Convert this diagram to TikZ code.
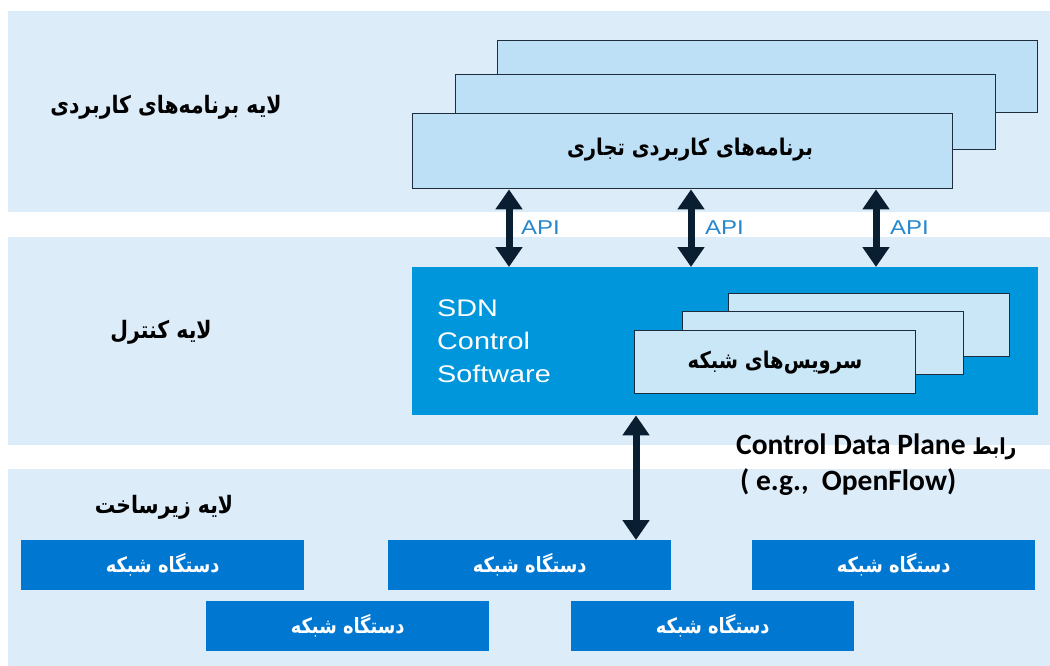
\documentclass[tikz,border=0pt]{standalone}
\usepackage{fontspec}
\setmainfont{Liberation Sans}[FakeStretch=1.2]
\newfontfamily\fa[Script=Arabic,FakeStretch=0.85]{DejaVu Sans}
\newfontfamily\planefont{Carlito}
\TeXXeTstate=1
\usetikzlibrary{arrows.meta}

\definecolor{bandblue}{RGB}{221,236,249}
\definecolor{appfill}{RGB}{190,224,246}
\definecolor{svcfill}{RGB}{202,231,248}
\definecolor{edgedark}{RGB}{30,45,62}
\definecolor{ctrlblue}{RGB}{0,150,220}
\definecolor{devblue}{RGB}{0,120,210}
\definecolor{arrowdark}{RGB}{10,30,50}
\definecolor{apiblue}{RGB}{40,135,205}

\begin{document}
\begin{tikzpicture}[x=1pt,y=-1pt,
  stackbox/.style={draw=edgedark,line width=1.4pt,anchor=north west,inner sep=0pt},
  appbox/.style={stackbox,fill=appfill,minimum width=540pt,minimum height=75pt},
  svcbox/.style={stackbox,fill=svcfill,minimum width=281pt,minimum height=63pt},
  devbox/.style={fill=devblue,draw=none,anchor=north west,inner sep=0pt,
    minimum width=283pt,minimum height=50pt,text=white,
    font=\fa\bfseries\fontsize{21}{24}\selectfont},
  layerlabel/.style={font=\fa\bfseries\fontsize{24}{28}\selectfont,text=black},
  boxtext/.style={font=\fa\bfseries\fontsize{23}{26}\selectfont,text=black},
  apilabel/.style={anchor=west,text=apiblue,inner sep=0pt,
    font=\fontsize{20}{24}\selectfont},
  linkarrow/.style={draw=arrowdark,line width=7pt,
    {Triangle[length=20pt,width=26pt]}-{Triangle[length=20pt,width=26pt]}},
  planelabel/.style={anchor=west,inner sep=0pt,text=black,
    font=\planefont\bfseries\fontsize{29.5}{32}\selectfont}]

\useasboundingbox (0,0) rectangle (1050,666);
\fill[white] (0,0) rectangle (1050,666);

% layer bands
\fill[bandblue] (8,11) rectangle (1050,212);
\fill[bandblue] (8,237) rectangle (1050,445);
\fill[bandblue] (8,469) rectangle (1050,666);

% layer titles
\node[layerlabel] (lapp) at (166,107) {\beginR لایه برنامه‌های کاربردی\endR};
\node[layerlabel] (lctrl) at (161,332) {\beginR لایه کنترل\endR};
\node[layerlabel] (linfra) at (164,507) {\beginR لایه زیرساخت\endR};

% application stack
\node[appbox,minimum height=72pt] (app3) at (497,40) {};
\node[appbox] (app2) at (455,74) {};
\node[appbox] (app1) at (412,113) {};
\node[boxtext] (apptext) at (690,150) {\beginR برنامه‌های کاربردی تجاری\endR};

% control layer
\node[fill=ctrlblue,draw=none,anchor=north west,inner sep=0pt,
  minimum width=626pt,minimum height=148pt] (ctrl) at (412,267) {};
\node[anchor=north west,inner sep=0pt,align=left,text=white,
  font=\fontsize{24}{33}\selectfont] (sdn) at (437,300) {SDN\\Control\\Software};

\node[svcbox] (svc3) at (728,293) {};
\node[svcbox] (svc2) at (682,311) {};
\node[svcbox] (svc1) at (634,330) {};
\node[boxtext] (svctext) at (775,363) {\beginR سرویس‌های شبکه\endR};

% network devices
\node[devbox] (dev1) at (21,540) {\beginR دستگاه شبکه\endR};
\node[devbox] (dev2) at (388,540) {\beginR دستگاه شبکه\endR};
\node[devbox] (dev3) at (752,540) {\beginR دستگاه شبکه\endR};
\node[devbox] (dev4) at (206,601) {\beginR دستگاه شبکه\endR};
\node[devbox] (dev5) at (571,601) {\beginR دستگاه شبکه\endR};

% API links
\coordinate (a1) at (509,0);
\coordinate (a2) at (691,0);
\coordinate (a3) at (876,0);
\draw[linkarrow] (app1.south -| a1) -- (ctrl.north -| a1);
\draw[linkarrow] (app1.south -| a2) -- (ctrl.north -| a2);
\draw[linkarrow] (app1.south -| a3) -- (ctrl.north -| a3);
\node[apilabel] (api1) at (521,228) {API};
\node[apilabel] (api2) at (705,228) {API};
\node[apilabel] (api3) at (890,228) {API};

% control / data plane link
\coordinate (sb) at (636,0);
\draw[linkarrow] (ctrl.south -| sb) -- (dev2.north -| sb);
\node[planelabel] (plane1) at (736,447) {Control Data Plane {\fa\fontsize{22}{26}\selectfont\beginR رابط\endR}};
\node[planelabel] (plane2) at (740,482) {( e.g.,~ OpenFlow)};

\end{tikzpicture}
\end{document}
